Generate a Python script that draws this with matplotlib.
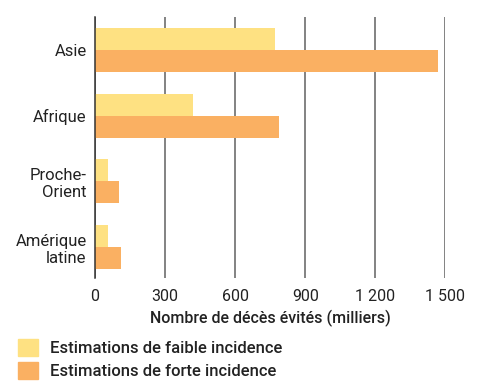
import numpy as np
from matplotlib import pyplot as plt
from matplotlib.patches import Patch

regions = ['Asie', 'Afrique', 'Proche-\nOrient', 'Amérique\nlatine']
low = [770, 420, 54, 54]
high = [1466, 786, 103, 110]
ticks = [0, 300, 600, 900, 1200, 1500]
tick_labels = ['0', '300', '600', '900', '1 200', '1 500']

yellow = '#fee182'
orange = '#fab062'
text_col = '#222222'

plt.rcParams['font.family'] = ['Roboto', 'DejaVu Sans']

fig = plt.figure(figsize=(4.81, 3.85), dpi=100)
ax = fig.add_axes([95 / 481, 1 - 278 / 385, 350.5 / 481, 261 / 385])

y = np.arange(len(regions))
h = 0.335
ax.barh(y - h / 2, low, height=h, color=yellow, zorder=2)
ax.barh(y + h / 2, high, height=h, color=orange, zorder=2)

ax.set_xlim(0, 1500)
ax.set_ylim(3.47, -0.5)
ax.set_xticks(ticks)
ax.set_xticklabels(tick_labels)
ax.set_yticks(y)
ax.set_yticklabels(regions, ha='right', multialignment='right')
ax.tick_params(length=0, labelcolor=text_col)
ax.tick_params(axis='x', pad=8, labelsize=11.5)
ax.tick_params(axis='y', pad=6, labelsize=12)
ax.xaxis.grid(True, color='#606060', linewidth=1.1, zorder=1)
for s in ['top', 'right', 'bottom']:
    ax.spines[s].set_visible(False)
ax.spines['left'].set_color('#333333')
ax.spines['left'].set_linewidth(1.1)
ax.spines['left'].set_zorder(3)

ax.set_xlabel('Nombre de décès évités (milliers)', fontsize=11.5,
              fontweight='medium', color=text_col, labelpad=4)

handles = [Patch(color=yellow, label='Estimations de faible incidence'),
           Patch(color=orange, label='Estimations de forte incidence')]
fig.legend(handles=handles, loc='upper left', bbox_to_anchor=(18 / 481, 1 - 339 / 385),
           frameon=False, prop={'size': 12, 'weight': 'medium'},
           borderpad=0, borderaxespad=0,
           handlelength=1.2, handleheight=1.2,
           handletextpad=0.72, labelspacing=0.36, labelcolor=text_col)

fig.savefig('out.png', dpi=100)
